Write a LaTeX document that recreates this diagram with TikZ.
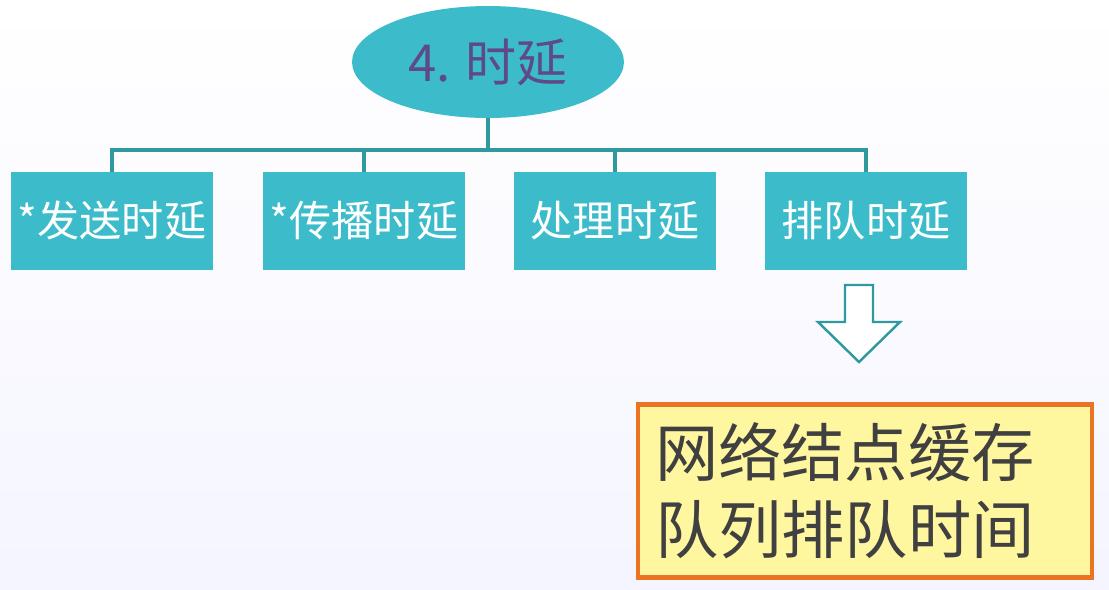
\documentclass[tikz,border=0pt]{standalone}
\usepackage{fontspec}
\newfontfamily\cjk{Noto Sans CJK SC}
\usetikzlibrary{shapes.geometric}
\definecolor{teal1}{HTML}{3CBCCB}
\definecolor{line1}{HTML}{2E9AA0}
\definecolor{purp}{HTML}{5E4A86}
\definecolor{yel}{HTML}{FFF6A0}
\definecolor{org}{HTML}{EA7424}
\tikzset{x=0.02cm,y=-0.02cm,
 box/.style={fill=teal1,minimum width=4.06cm,minimum height=1.96cm,text=white,font=\cjk\fontsize{24}{28}\selectfont,inner sep=0pt},
 conn/.style={draw=line1,line width=1.8pt}}
\begin{document}
\begin{tikzpicture}
\shade[top color=white,bottom color=blue!4] (0,0) rectangle (1109,589);
\node[ellipse,fill=teal1,minimum width=5.44cm,minimum height=2.24cm,text=purp,font=\cjk\fontsize{29}{32}\selectfont] (e) at (488,62) {4. 时延};
\node[box] (b1) at (112,221) {*发送时延};
\node[box] (b2) at (364,221) {*传播时延};
\node[box] (b3) at (615,221) {处理时延};
\node[box] (b4) at (866,221) {排队时延};
\coordinate (j) at (488,150);
\draw[conn] (e.south) -- (j);
\draw[conn] (b1.north) |- (j) -| (b4.north);
\draw[conn] (b2.north) -- (b2.north|-j);
\draw[conn] (b3.north) -- (b3.north|-j);
\draw[draw=line1,line width=1.4pt,fill=white] (845,285) -- (873,285) -- (873,322) -- (900,322) -- (859,362) -- (818,322) -- (845,322) -- cycle;
\node[draw=org,line width=2.4pt,fill=yel,minimum width=9.08cm,minimum height=3.46cm,inner sep=0pt,text=black!75,font=\cjk\fontsize{36}{44}\selectfont] (y) at (865,491) {\parbox{8.4cm}{网络结点缓存\\队列排队时间}};
\end{tikzpicture}
\end{document}
